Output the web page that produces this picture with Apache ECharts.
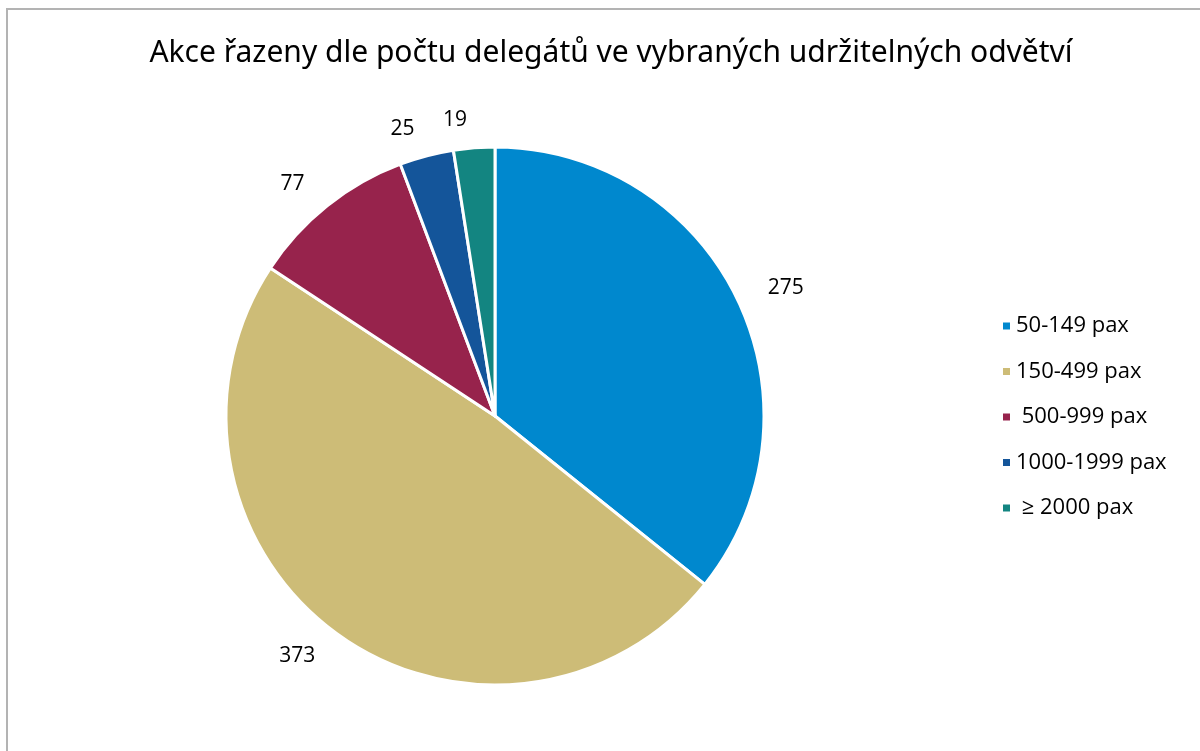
<!DOCTYPE html>
<html>
<head>
<meta charset="utf-8">
<script src="https://cdn.jsdelivr.net/npm/echarts@6/dist/echarts.min.js"></script>
<style>
  html, body { margin: 0; padding: 0; background: #fff; }
  #chart { width: 1200px; height: 751px; }
</style>
</head>
<body>
<div id="chart"></div>
<script>
// data
const categories = ['50-149 pax', '150-499 pax', ' 500-999 pax', '1000-1999 pax', ' ≥ 2000 pax']
const values = [275, 373, 77, 25, 19]
const colors = ['#0088ce', '#cdbc77', '#97234c', '#14559a', '#138581']

const chart = echarts.init(document.getElementById('chart'))

const option = {
  backgroundColor: '#fff',
  animation: false,
  title: {
    text: 'Akce řazeny dle počtu delegátů ve vybraných udržitelných odvětví',
    left: 606,
    textAlign: 'center',
    top: 33,
    textStyle: {
      fontFamily: 'Noto Sans',
      fontSize: 30,
      fontWeight: 'normal',
      color: '#000'
    }
  },
  legend: {
    orient: 'vertical',
    left: 996,
    top: 310,
    itemWidth: 9,
    itemHeight: 9,
    itemGap: 23.5,
    icon: 'rect',
    textStyle: {
      fontFamily: 'Open Sans',
      fontSize: 22,
      lineHeight: 22,
      color: '#000'
    },
    data: categories
  },
  graphic: [{
    type: 'rect',
    shape: { x: 7, y: 9, width: 1400, height: 1000 },
    style: { fill: 'none', stroke: '#b3b3b3', lineWidth: 2 },
    silent: true
  }],
  series: [{
    type: 'pie',
    center: [495, 416],
    radius: 269,
    startAngle: 90,
    clockwise: true,
    avoidLabelOverlap: false,
    itemStyle: { borderColor: '#fff', borderWidth: 3 },
    label: {
      show: true,
      position: 'outside',
      formatter: '{c}',
      fontFamily: 'Open Sans',
      fontSize: 21,
      color: '#000'
    },
    labelLine: { show: false, length: 28, length2: 0 },
    emphasis: { disabled: true },
    data: categories.map((name, i) => ({
      name: name,
      value: values[i],
      itemStyle: { color: colors[i] }
    }))
  }]
}

chart.setOption(option)
</script>
</body>
</html>
